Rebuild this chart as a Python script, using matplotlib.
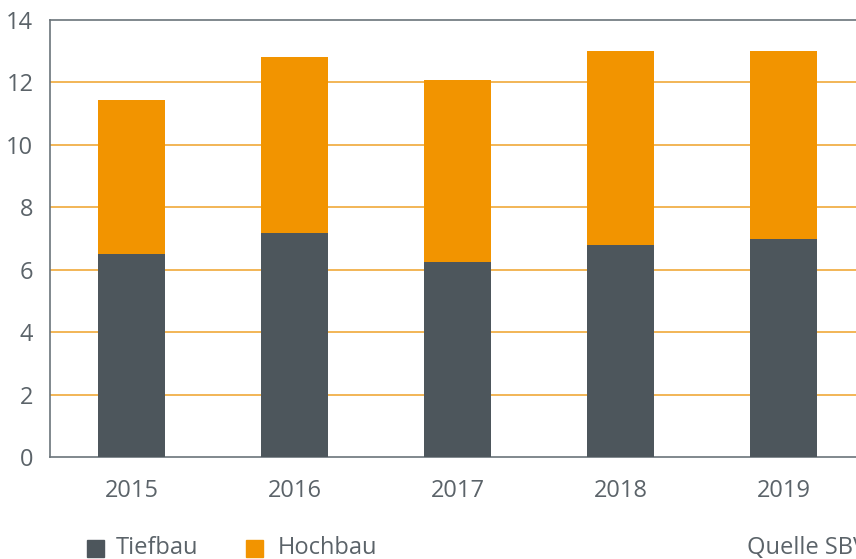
import numpy as np
import matplotlib.pyplot as plt
from matplotlib.patches import Rectangle

years = ['2015', '2016', '2017', '2018', '2019']
tiefbau = [6.50, 7.18, 6.25, 6.79, 6.98]
hochbau = [4.94, 5.64, 5.83, 6.22, 6.03]

dark = '#4d565c'
orange = '#f29400'
grid_orange = '#f0a93a'
text_grey = '#5b6369'
spine_grey = '#6b747a'

plt.rcParams['font.family'] = ['Open Sans', 'DejaVu Sans']

fig = plt.figure(figsize=(8.56, 5.59), dpi=100)
ax = fig.add_axes([50 / 856, 1 - 457 / 559, 815 / 856, 437 / 559])

x = np.arange(len(years))
ax.bar(x, tiefbau, width=0.405, color=dark, zorder=3)
ax.bar(x, hochbau, width=0.405, bottom=tiefbau, color=orange, zorder=3)

ax.set_xlim(-0.5, 4.5)
ax.set_ylim(0, 14)
ax.set_yticks(range(0, 15, 2))
ax.set_xticks(x)
ax.set_xticklabels(years)
for y in range(2, 14, 2):
    ax.axhline(y, color=grid_orange, linewidth=1.2, zorder=1)

for side in ['left', 'bottom', 'top']:
    ax.spines[side].set_color(spine_grey)
    ax.spines[side].set_linewidth(1.2)
ax.spines['right'].set_visible(False)
ax.tick_params(length=0, labelsize=17, colors=text_grey)
ax.tick_params(axis='x', pad=16)
ax.tick_params(axis='y', pad=12)

# legend along the bottom
fig.patches.append(Rectangle((87 / 856, 1 - 557 / 559), 17 / 856, 17 / 559,
                             transform=fig.transFigure, color=dark))
fig.text(116 / 856, 1 - 548 / 559, 'Tiefbau', fontsize=17, color=text_grey, va='center')
fig.patches.append(Rectangle((246 / 856, 1 - 557 / 559), 17 / 856, 17 / 559,
                             transform=fig.transFigure, color=orange))
fig.text(278 / 856, 1 - 548 / 559, 'Hochbau', fontsize=17, color=text_grey, va='center')
fig.text(747 / 856, 1 - 548 / 559, 'Quelle SBV', fontsize=17, color=text_grey, va='center')

fig.savefig('out.png', dpi=100)
